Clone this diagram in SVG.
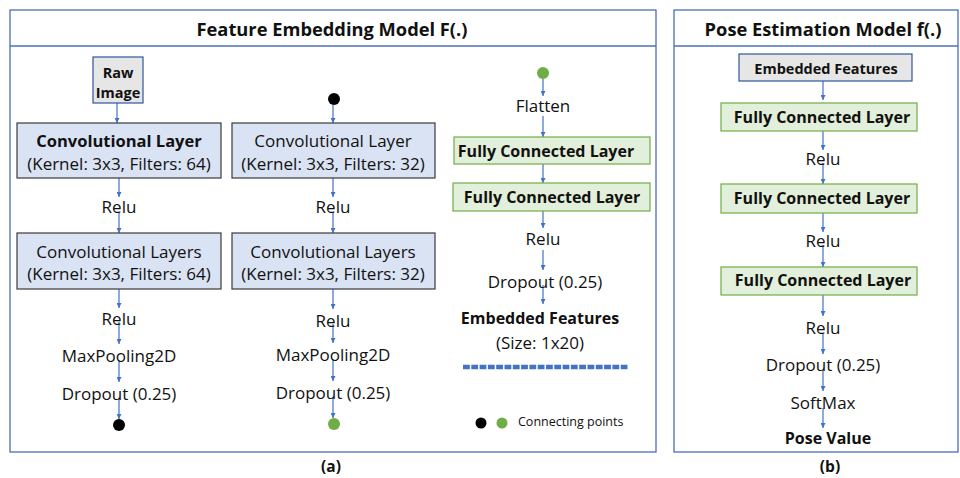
<svg xmlns="http://www.w3.org/2000/svg" width="960" height="478" viewBox="0 0 960 478">
<defs>
<marker id="ah" viewBox="0 0 10 10" refX="10" refY="5" markerWidth="5" markerHeight="5" orient="auto" markerUnits="userSpaceOnUse">
<path d="M0,0 L10,5 L0,10 z" fill="#4472c4"/>
</marker>
<style>
text{font-family:"Open Sans",Lato,"Liberation Sans",sans-serif;fill:#111;text-anchor:middle;dominant-baseline:central}
.t{font-size:18.3px;font-weight:bold}
.n{font-size:17px}
.b{font-size:16px;font-weight:bold}
.s{font-size:12.5px;text-anchor:start}
.cap{font-size:15.5px;font-weight:bold}
.panel{fill:#fff;stroke:#4a6fb5;stroke-width:1.3}
.sep{stroke:#4a6fb5;stroke-width:1.3}
.conv{fill:#dae3f3;stroke:#3a3a3a;stroke-width:1.2}
.fc{fill:#e2efda;stroke:#70ad47;stroke-width:1.2}
.gray{fill:#e7e6e6;stroke:#2f5597;stroke-width:1.2}
.c line{stroke:#4472c4;stroke-width:1.2;marker-end:url(#ah)}
</style>
</defs>
<rect width="960" height="478" fill="#fff"/>
<g id="panel-a">
<rect class="panel" x="10" y="10" width="646" height="442"/>
<line class="sep" x1="10" y1="46" x2="656" y2="46"/>
<text class="t" x="332" y="28">Feature Embedding Model F(.)</text>
<text class="cap" x="331" y="466">(a)</text>
</g>
<g id="panel-b">
<rect class="panel" x="674" y="10" width="284" height="442"/>
<line class="sep" x1="674" y1="46" x2="958" y2="46"/>
<text class="t" x="823" y="28">Pose Estimation Model f(.)</text>
<text class="cap" x="830" y="466">(b)</text>
</g>
<g class="c" id="connectors">
<line x1="117" y1="103" x2="117" y2="123"/>
<line x1="119" y1="178" x2="119" y2="197"/>
<line x1="119" y1="212" x2="119" y2="233"/>
<line x1="119" y1="289" x2="119" y2="308"/>
<line x1="119" y1="322" x2="119" y2="344"/>
<line x1="119" y1="360" x2="119" y2="382"/>
<line x1="119" y1="398" x2="119" y2="419"/>
<line x1="333" y1="105" x2="333" y2="123"/>
<line x1="333" y1="178" x2="333" y2="197"/>
<line x1="333" y1="212" x2="333" y2="233"/>
<line x1="333" y1="289" x2="333" y2="309"/>
<line x1="333" y1="324" x2="333" y2="343"/>
<line x1="333" y1="359" x2="333" y2="381"/>
<line x1="333" y1="397" x2="333" y2="418"/>
<line x1="543" y1="79" x2="543" y2="96"/>
<line x1="543" y1="116" x2="543" y2="137"/>
<line x1="543" y1="164" x2="543" y2="183"/>
<line x1="543" y1="211" x2="543" y2="228"/>
<line x1="543" y1="250" x2="543" y2="270"/>
<line x1="543" y1="285" x2="543" y2="304"/>
<line x1="823" y1="81" x2="823" y2="100"/>
<line x1="823" y1="131" x2="823" y2="150"/>
<line x1="823" y1="163" x2="823" y2="184"/>
<line x1="823" y1="213" x2="823" y2="232"/>
<line x1="823" y1="245" x2="823" y2="267"/>
<line x1="823" y1="295" x2="823" y2="316"/>
<line x1="823" y1="334" x2="823" y2="354"/>
<line x1="823" y1="370" x2="823" y2="391"/>
<line x1="823" y1="408" x2="823" y2="428"/>
</g>
<g id="raw-image">
<rect class="gray" x="93" y="57" width="50" height="46"/>
<text class="b" x="118" y="72" style="font-size:14.5px">Raw</text>
<text class="b" x="118" y="92" style="font-size:14.5px">Image</text>
</g>
<g id="conv1">
<rect class="conv" x="17" y="123" width="204" height="55"/>
<text class="b" x="119" y="140" style="font-size:16.5px">Convolutional Layer</text>
<text class="n" x="119" y="163">(Kernel: 3x3, Filters: 64)</text>
</g>
<g id="relu1"><text class="n" x="119" y="206">Relu</text></g>
<g id="conv2">
<rect class="conv" x="17" y="233" width="204" height="56"/>
<text class="n" x="119" y="251">Convolutional Layers</text>
<text class="n" x="119" y="273">(Kernel: 3x3, Filters: 64)</text>
</g>
<g id="relu2"><text class="n" x="119" y="318">Relu</text></g>
<g id="maxpool1"><text class="n" x="119" y="355">MaxPooling2D</text></g>
<g id="dropout1"><text class="n" x="119" y="393">Dropout (0.25)</text></g>
<g id="dot1"><circle cx="119" cy="425" r="6" fill="#000"/></g>
<g id="dot2"><circle cx="334" cy="99" r="6" fill="#000"/></g>
<g id="conv3">
<rect class="conv" x="232" y="123" width="203" height="55"/>
<text class="n" x="333" y="140">Convolutional Layer</text>
<text class="n" x="333" y="163">(Kernel: 3x3, Filters: 32)</text>
</g>
<g id="relu3"><text class="n" x="333" y="206">Relu</text></g>
<g id="conv4">
<rect class="conv" x="232" y="233" width="203" height="56"/>
<text class="n" x="333" y="251">Convolutional Layers</text>
<text class="n" x="333" y="273">(Kernel: 3x3, Filters: 32)</text>
</g>
<g id="relu4"><text class="n" x="333" y="320">Relu</text></g>
<g id="maxpool2"><text class="n" x="333" y="354">MaxPooling2D</text></g>
<g id="dropout2"><text class="n" x="333" y="392">Dropout (0.25)</text></g>
<g id="dot3"><circle cx="334" cy="424" r="6" fill="#70ad47"/></g>
<g id="dot4"><circle cx="543" cy="73" r="6" fill="#70ad47"/></g>
<g id="flatten"><text class="n" x="543" y="105">Flatten</text></g>
<g id="fc1">
<rect class="fc" x="454" y="137" width="196" height="27"/>
<text class="b" x="546" y="151">Fully Connected Layer</text>
</g>
<g id="fc2">
<rect class="fc" x="453" y="183" width="197" height="28"/>
<text class="b" x="552" y="197">Fully Connected Layer</text>
</g>
<g id="relu5"><text class="n" x="543" y="238">Relu</text></g>
<g id="dropout3"><text class="n" x="545" y="281">Dropout (0.25)</text></g>
<g id="embedded">
<text class="b" x="540" y="318">Embedded Features</text>
<text class="n" x="540" y="342">(Size: 1x20)</text>
<line x1="463" y1="367" x2="629" y2="367" stroke="#4472c4" stroke-width="4.5" stroke-dasharray="6.8 1.5"/>
</g>
<g id="legend">
<circle cx="481" cy="423" r="5.5" fill="#000"/>
<circle cx="502" cy="423" r="5.5" fill="#70ad47"/>
<text class="s" x="518" y="421">Connecting points</text>
</g>
<g id="ef-input">
<rect class="gray" x="739" y="54" width="173" height="27"/>
<text class="b" x="826" y="68" style="font-size:14.5px">Embedded Features</text>
</g>
<g id="fc3">
<rect class="fc" x="721" y="103" width="196" height="28"/>
<text class="b" x="822" y="117">Fully Connected Layer</text>
</g>
<g id="relu6"><text class="n" x="823" y="158">Relu</text></g>
<g id="fc4">
<rect class="fc" x="721" y="184" width="196" height="29"/>
<text class="b" x="822" y="198">Fully Connected Layer</text>
</g>
<g id="relu7"><text class="n" x="823" y="240">Relu</text></g>
<g id="fc5">
<rect class="fc" x="721" y="267" width="196" height="28"/>
<text class="b" x="823" y="280">Fully Connected Layer</text>
</g>
<g id="relu8"><text class="n" x="823" y="327">Relu</text></g>
<g id="dropout4"><text class="n" x="823" y="364">Dropout (0.25)</text></g>
<g id="softmax"><text class="n" x="823" y="402">SoftMax</text></g>
<g id="pose"><text class="b" x="828" y="438">Pose Value</text></g>
</svg>
